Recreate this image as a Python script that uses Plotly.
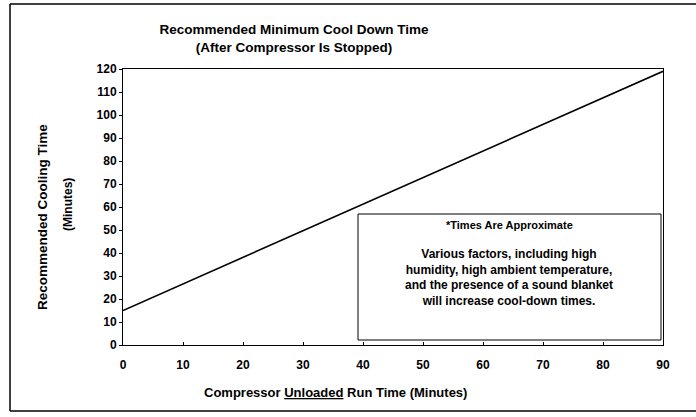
import plotly.graph_objects as go

run_time = [0, 90]
cool_time = [15, 119]
x_ticks = [0, 10, 20, 30, 40, 50, 60, 70, 80, 90]
y_ticks = [0, 10, 20, 30, 40, 50, 60, 70, 80, 90, 100, 110, 120]

W, H = 696, 417
L, R, T, B = 123, 33, 69, 72
pw, ph = W - L - R, H - T - B

def px(xp):
    return (xp - L) / pw

def py(yp):
    return (H - B - yp) / ph

FONT = "Liberation Sans, Arial, sans-serif"

fig = go.Figure()
fig.add_trace(go.Scatter(x=run_time, y=cool_time, mode="lines",
                         line=dict(color="black", width=1.6),
                         showlegend=False, hoverinfo="skip"))

fig.update_layout(
    width=W, height=H,
    margin=dict(l=L, r=R, t=T, b=B),
    paper_bgcolor="white", plot_bgcolor="white",
    font=dict(family=FONT, color="black"),
    title=dict(text="<b>Recommended Minimum Cool Down Time<br>(After Compressor Is Stopped)</b>",
               x=294 / W, xanchor="center",
               y=1 - 34 / H, yanchor="middle",
               font=dict(size=13.5, family=FONT, color="black")),
    xaxis=dict(range=[0, 90], tickvals=x_ticks, ticktext=[f"<b>{v}</b>" for v in x_ticks],
               showgrid=False, zeroline=False, showline=True, linecolor="black", linewidth=1,
               mirror=True, ticks="inside", ticklen=3, tickcolor="black",
               tickfont=dict(size=12, family=FONT), ticklabelstandoff=9),
    yaxis=dict(range=[0, 120], tickvals=y_ticks, ticktext=[f"<b>{v}</b>" for v in y_ticks],
               showgrid=False, zeroline=False, showline=True, linecolor="black", linewidth=1,
               mirror=True, ticks="outside", ticklen=3, tickcolor="black",
               tickfont=dict(size=12, family=FONT)),
)

# x-axis title
fig.add_annotation(xref="paper", yref="paper", x=px(335), y=py(392),
                   text="<b>Compressor <u>Unloaded</u> Run Time (Minutes)</b>",
                   showarrow=False, font=dict(size=13, family=FONT), xanchor="center", yanchor="middle")
# y-axis titles
fig.add_annotation(xref="paper", yref="paper", x=px(43), y=py(217),
                   text="<b>Recommended Cooling Time</b>", textangle=-90,
                   showarrow=False, font=dict(size=13.5, family=FONT), xanchor="center", yanchor="middle")
fig.add_annotation(xref="paper", yref="paper", x=px(68), y=py(205),
                   text="<b>(Minutes)</b>", textangle=-90,
                   showarrow=False, font=dict(size=12, family=FONT), xanchor="center", yanchor="middle")

# note box
fig.add_shape(type="rect", xref="paper", yref="paper",
              x0=px(358), x1=px(661), y0=py(340), y1=py(214),
              line=dict(color="black", width=1), fillcolor="white", layer="above")
fig.add_annotation(xref="paper", yref="paper", x=px(509), y=py(225),
                   text="<b>*Times Are Approximate</b>", showarrow=False,
                   font=dict(size=11, family=FONT), xanchor="center", yanchor="middle")
fig.add_annotation(xref="paper", yref="paper", x=px(509), y=py(277),
                   text=("<b>Various factors, including high<br>humidity, high ambient temperature,<br>"
                         "and the presence of a sound blanket<br>will increase cool-down times.</b>"),
                   showarrow=False, align="center",
                   font=dict(size=12, family=FONT), xanchor="center", yanchor="middle")

# outer border: left, top and bottom edges (right edge lies beyond the page)
for (xa, ya, xb, yb) in [(10, 4, 10, 411), (10, 4, 696, 4), (10, 411, 696, 411)]:
    fig.add_shape(type="line", xref="paper", yref="paper",
                  x0=px(xa), y0=py(ya), x1=px(xb), y1=py(yb),
                  line=dict(color="black", width=1.5), layer="above")

fig.write_html("out.html",
               config={"displayModeBar": False},
               post_script="document.body.style.margin='0';document.body.style.overflow='hidden';")
